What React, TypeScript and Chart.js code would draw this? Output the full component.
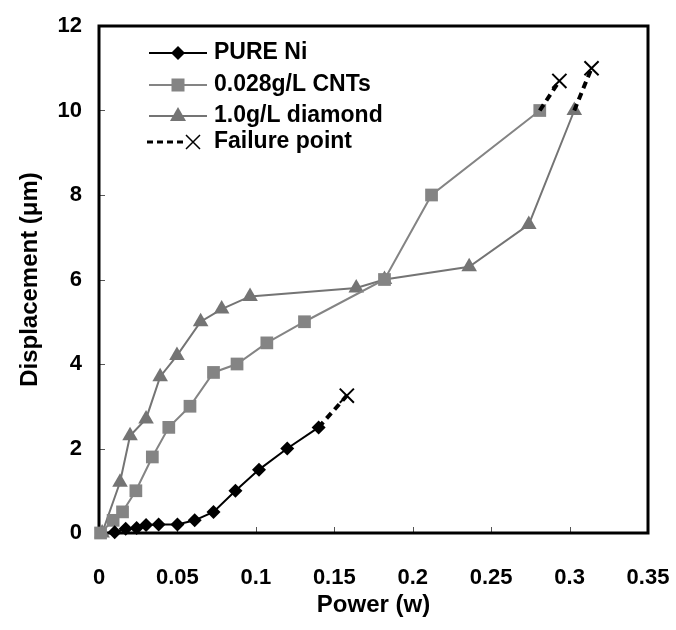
import React, { useEffect, useRef } from 'react';
import { Chart, registerables } from 'chart.js';

Chart.register(...registerables);

// ---- data ----
const niX = [0.010, 0.017, 0.024, 0.030, 0.038, 0.050, 0.061, 0.073, 0.087, 0.102, 0.120, 0.140];
const niY = [0.02, 0.10, 0.12, 0.19, 0.20, 0.20, 0.30, 0.50, 1.00, 1.50, 2.00, 2.50];

const cntX = [0.001, 0.009, 0.015, 0.0235, 0.034, 0.0445, 0.058, 0.073, 0.088, 0.107, 0.131, 0.182, 0.212, 0.281];
const cntY = [0.0, 0.3, 0.5, 1.0, 1.8, 2.5, 3.0, 3.8, 4.0, 4.5, 5.0, 6.0, 8.0, 10.0];

const diaX = [0.002, 0.0134, 0.0198, 0.030, 0.039, 0.0497, 0.0648, 0.0782, 0.0963, 0.164, 0.182, 0.236, 0.274, 0.303];
const diaY = [0.0, 1.2, 2.3, 2.7, 3.7, 4.2, 5.0, 5.3, 5.6, 5.8, 6.0, 6.3, 7.3, 10.0];

const niFailX = [0.140, 0.158];
const niFailY = [2.5, 3.25];
const cntFailX = [0.281, 0.2935];
const cntFailY = [10.0, 10.7];
const diaFailX = [0.303, 0.314];
const diaFailY = [10.0, 11.0];

const xTicks = [0, 0.05, 0.1, 0.15, 0.2, 0.25, 0.3, 0.35];
const xTickLabels = ['0', '0.05', '0.1', '0.15', '0.2', '0.25', '0.3', '0.35'];
const yTicks = [0, 2, 4, 6, 8, 10, 12];

const legendLabels = ['PURE Ni', '0.028g/L CNTs', '1.0g/L diamond', 'Failure point'];

const NI_COLOR = '#000000';
const CNT_COLOR = '#848484';
const DIA_COLOR = '#747474';
const FONT = '"Liberation Sans", Arial, Helvetica, sans-serif';

function pts(xs: number[], ys: number[]) {
  return xs.map((x, i) => ({ x, y: ys[i] }));
}

export default function App() {
  const ref = useRef<HTMLCanvasElement>(null);

  useEffect(() => {
    document.body.style.margin = '0';
    const canvas = ref.current;
    if (!canvas) return;

    const boxPlugin = {
      id: 'boxPlugin',
      beforeDatasetsDraw(chart: any) {
        const { ctx, chartArea: a, scales } = chart;
        ctx.save();
        ctx.strokeStyle = '#555';
        ctx.lineWidth = 1;
        ctx.beginPath();
        xTicks.forEach((v) => {
          const px = Math.round(scales.x.getPixelForValue(v)) + 0.5;
          ctx.moveTo(px, a.bottom);
          ctx.lineTo(px, a.bottom - 6);
        });
        yTicks.forEach((v) => {
          const py = Math.round(scales.y.getPixelForValue(v)) + 0.5;
          ctx.moveTo(a.left, py);
          ctx.lineTo(a.left + 6, py);
        });
        ctx.stroke();
        ctx.strokeStyle = '#000';
        ctx.lineWidth = 3;
        ctx.strokeRect(a.left, a.top, a.right - a.left, a.bottom - a.top);
        ctx.restore();
      },
      afterDraw(chart: any) {
        const { ctx } = chart;
        const rows = [53, 85, 116, 142];
        const x0 = 149, x1 = 207, xm = 178, tx = 214;
        ctx.save();
        // PURE Ni
        ctx.strokeStyle = NI_COLOR; ctx.lineWidth = 2;
        ctx.beginPath(); ctx.moveTo(x0, rows[0]); ctx.lineTo(x1, rows[0]); ctx.stroke();
        ctx.fillStyle = NI_COLOR;
        ctx.beginPath();
        ctx.moveTo(xm - 7, rows[0]); ctx.lineTo(xm, rows[0] - 7); ctx.lineTo(xm + 7, rows[0]); ctx.lineTo(xm, rows[0] + 7);
        ctx.closePath(); ctx.fill();
        // CNTs
        ctx.strokeStyle = CNT_COLOR;
        ctx.beginPath(); ctx.moveTo(x0, rows[1]); ctx.lineTo(x1, rows[1]); ctx.stroke();
        ctx.fillStyle = CNT_COLOR;
        ctx.fillRect(xm - 6.5, rows[1] - 6.5, 13, 13);
        // diamond
        ctx.strokeStyle = DIA_COLOR;
        ctx.beginPath(); ctx.moveTo(x0, rows[2]); ctx.lineTo(x1, rows[2]); ctx.stroke();
        ctx.fillStyle = DIA_COLOR;
        ctx.beginPath();
        ctx.moveTo(xm, rows[2] - 9); ctx.lineTo(xm + 8, rows[2] + 5); ctx.lineTo(xm - 8, rows[2] + 5);
        ctx.closePath(); ctx.fill();
        // failure
        ctx.strokeStyle = '#000'; ctx.lineWidth = 3;
        ctx.setLineDash([6, 4]);
        ctx.beginPath(); ctx.moveTo(147, rows[3]); ctx.lineTo(186, rows[3]); ctx.stroke();
        ctx.setLineDash([]);
        ctx.lineWidth = 1.5;
        ctx.beginPath();
        ctx.moveTo(186, rows[3] - 7); ctx.lineTo(200, rows[3] + 7);
        ctx.moveTo(200, rows[3] - 7); ctx.lineTo(186, rows[3] + 7);
        ctx.stroke();
        // text
        ctx.fillStyle = '#000';
        ctx.font = `bold 23px ${FONT}`;
        ctx.textBaseline = 'middle';
        ctx.textAlign = 'left';
        legendLabels.forEach((t, i) => ctx.fillText(t, tx, rows[i]));
        ctx.restore();
      },
    };

    const failDs = (xs: number[], ys: number[]) => ({
      data: pts(xs, ys),
      showLine: true,
      borderColor: '#000',
      borderWidth: 4,
      borderDash: [7, 5],
      pointRadius: [0, 10],
      pointHoverRadius: [0, 10],
      pointStyle: 'crossRot',
      pointBorderColor: '#000',
      pointBorderWidth: 2,
      pointBackgroundColor: '#000',
      clip: false,
    });

    const chart = new Chart(canvas, {
      type: 'scatter',
      data: {
        datasets: [
          failDs(niFailX, niFailY),
          failDs(cntFailX, cntFailY),
          failDs(diaFailX, diaFailY),
          {
            data: pts(niX, niY),
            showLine: true,
            borderColor: NI_COLOR,
            borderWidth: 2,
            pointStyle: 'rectRot',
            pointRadius: 7,
            pointBackgroundColor: NI_COLOR,
            pointBorderColor: NI_COLOR,
            pointBorderWidth: 0,
            clip: false,
          },
          {
            data: pts(cntX, cntY),
            showLine: true,
            borderColor: CNT_COLOR,
            borderWidth: 2,
            pointStyle: 'rect',
            pointRadius: 9,
            pointBackgroundColor: CNT_COLOR,
            pointBorderColor: CNT_COLOR,
            pointBorderWidth: 0,
            clip: false,
          },
          {
            data: pts(diaX, diaY),
            showLine: true,
            borderColor: DIA_COLOR,
            borderWidth: 2,
            pointStyle: 'triangle',
            pointRadius: 9,
            pointBackgroundColor: DIA_COLOR,
            pointBorderColor: DIA_COLOR,
            pointBorderWidth: 0,
            clip: false,
          },
        ],
      } as any,
      options: {
        animation: false,
        responsive: false,
        maintainAspectRatio: false,
        events: [],
        layout: { padding: { top: 26, right: 28, left: 0, bottom: 0 } },
        plugins: {
          legend: { display: false },
          tooltip: { enabled: false },
        },
        scales: {
          x: {
            type: 'linear',
            min: 0,
            max: 0.35,
            afterBuildTicks: (s: any) => {
              s.ticks = xTicks.map((v) => ({ value: v }));
            },
            ticks: {
              color: '#000',
              font: { family: FONT, size: 22, weight: 'bold' },
              padding: 32,
              maxRotation: 0,
              callback: (v: any) => {
                const i = xTicks.findIndex((t) => Math.abs(t - Number(v)) < 1e-9);
                return i >= 0 ? xTickLabels[i] : '';
              },
            },
            grid: { display: false, drawTicks: false },
            border: { display: false },
            title: {
              display: true,
              text: 'Power (w)',
              color: '#000',
              font: { family: FONT, size: 24, weight: 'bold' },
              padding: { top: 0, bottom: 10 },
            },
            afterFit: (s: any) => {
              s.height = 97;
              s.paddingLeft = 0;
              s.paddingRight = 0;
            },
          },
          y: {
            type: 'linear',
            min: 0,
            max: 12,
            afterBuildTicks: (s: any) => {
              s.ticks = yTicks.map((v) => ({ value: v }));
            },
            ticks: {
              color: '#000',
              font: { family: FONT, size: 22, weight: 'bold' },
              padding: 17,
            },
            grid: { display: false, drawTicks: false },
            border: { display: false },
            title: {
              display: true,
              text: 'Displacement (μm)',
              color: '#000',
              font: { family: FONT, size: 24, weight: 'bold' },
              padding: { top: 16, bottom: 0 },
            },
            afterFit: (s: any) => {
              s.width = 99;
              s.paddingTop = 0;
              s.paddingBottom = 0;
            },
          },
        },
      } as any,
      plugins: [boxPlugin],
    });

    return () => chart.destroy();
  }, []);

  return (
    <div style={{ width: 676, height: 630, background: '#fff' }}>
      <canvas ref={ref} width={676} height={630} style={{ display: 'block' }} />
    </div>
  );
}
